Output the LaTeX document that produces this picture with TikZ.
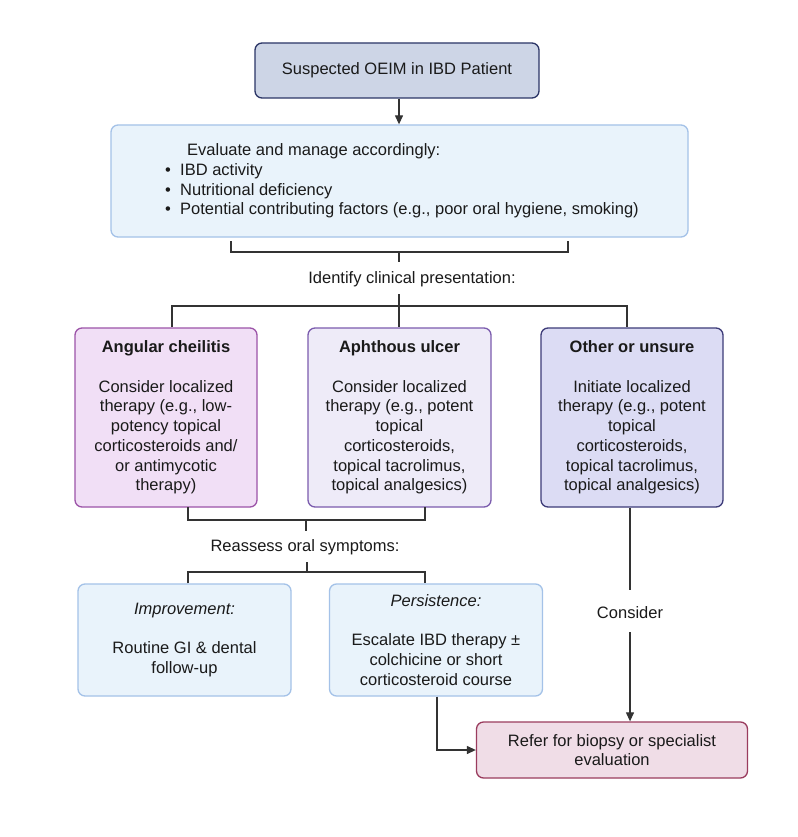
\documentclass[tikz,border=0pt]{standalone}
\usepackage{fontspec}
\setmainfont{Liberation Sans}
\usetikzlibrary{arrows.meta,calc}
\definecolor{lineC}{HTML}{333333}
\definecolor{topF}{HTML}{CDD5E6}\definecolor{topD}{HTML}{2B3566}
\definecolor{evF}{HTML}{E9F3FB}\definecolor{evD}{HTML}{A4C2E8}
\definecolor{angF}{HTML}{F1DFF6}\definecolor{angD}{HTML}{9C54A8}
\definecolor{aphF}{HTML}{EEEBF8}\definecolor{aphD}{HTML}{7B5CAE}
\definecolor{othF}{HTML}{DCDCF4}\definecolor{othD}{HTML}{3D3B78}
\definecolor{refF}{HTML}{F0DDE7}\definecolor{refD}{HTML}{9A3C5E}
\definecolor{txt}{HTML}{1A1A1A}
\begin{document}
\begin{tikzpicture}[x=1pt,y=-1pt,
  every node/.style={font=\fontsize{16.5}{19.7}\selectfont, text=txt, inner sep=0pt},
  box/.style={draw, rounded corners=7pt, line width=1.3pt, align=center},
  conn/.style={draw=lineC, line width=1.2pt},
  arr/.style={conn, -{Triangle[length=9pt,width=8pt]}},
  lbl/.style={align=center}]
\fill[white] (0,0) rectangle (797,837);
\useasboundingbox (0,0) rectangle (797,837);
% boxes
\node[box, fill=topF, draw=topD, minimum width=284pt, minimum height=55pt] (top) at (397,70.5) {Suspected OEIM in IBD Patient};
\node[box, fill=evF, draw=evD, minimum width=577pt, minimum height=112pt] (eval) at (399.5,181) {};
\node[align=left, anchor=west] (evtxt) at (165,181) {\hspace*{22pt}Evaluate and manage accordingly:\\
\makebox[15pt][l]{•}IBD activity\\
\makebox[15pt][l]{•}Nutritional deficiency\\
\makebox[15pt][l]{•}Potential contributing factors (e.g., poor oral hygiene, smoking)};
\node[box, fill=angF, draw=angD, minimum width=182pt, minimum height=179pt] (ang) at (166,417.5)
  {\textbf{Angular cheilitis}\\[19.7pt]Consider localized\\therapy (e.g., low-\\potency topical\\corticosteroids and/\\or antimycotic\\therapy)};
\node[box, fill=aphF, draw=aphD, minimum width=183pt, minimum height=179pt] (aph) at (399.5,417.5)
  {\textbf{Aphthous ulcer}\\[19.7pt]Consider localized\\therapy (e.g., potent\\topical\\corticosteroids,\\topical tacrolimus,\\topical analgesics)};
\node[box, fill=othF, draw=othD, minimum width=182pt, minimum height=179pt] (oth) at (632,417.5)
  {\textbf{Other or unsure}\\[19.7pt]Initiate localized\\therapy (e.g., potent\\topical\\corticosteroids,\\topical tacrolimus,\\topical analgesics)};
\node[box, fill=evF, draw=evD, minimum width=213pt, minimum height=112pt] (imp) at (184.5,640)
  {\textit{Improvement:}\\[19.7pt]Routine GI \& dental\\follow-up};
\node[box, fill=evF, draw=evD, minimum width=213pt, minimum height=112pt] (per) at (436,640)
  {\textit{Persistence:}\\[19.7pt]Escalate IBD therapy ±\\colchicine or short\\corticosteroid course};
\node[box, fill=refF, draw=refD, minimum width=271pt, minimum height=56pt] (ref) at (612,750)
  {Refer for biopsy or specialist\\evaluation};
% labels
\node[lbl] (ident) at (412,279) {Identify clinical presentation:};
\node[lbl] (reas) at (305,547) {Reassess oral symptoms:};
\node[lbl] (cons) at (630,613) {Consider};
% coordinates
\coordinate (b1l) at (231,241);
\coordinate (b1r) at (568,241);
\coordinate (b1m) at (399,252);
\coordinate (b1s) at (399,262);
\coordinate (b2m) at (399,294);
\coordinate (b2h) at (399,306);
\coordinate (b3l) at (188,507);
\coordinate (b3r) at (425,507);
\coordinate (b3m) at (306,520);
\coordinate (b3s) at (306,531);
\coordinate (b4m) at (307,562);
\coordinate (b4h) at (307,572);
% connectors
\draw[arr] (top.south -| b1m) -- (eval.north -| b1m);
\draw[conn] (b1l) |- (b1m) -| (b1r);
\draw[conn] (b1m) -- (b1s);
\draw[conn] (b2m) -- (b2h);
\draw[conn] (ang.north -| 172,0) |- (b2h) -| (oth.north -| 627,0);
\draw[conn] (b2h) -- (aph.north -| b2h);
\draw[conn] (b3l) |- (b3m) -| (b3r);
\draw[conn] (b3m) -- (b3s);
\draw[conn] (b4m) -- (b4h);
\draw[conn] (imp.north -| b3l) |- (b4h) -| (per.north -| b3r);
\draw[conn] (oth.south -| cons) -- (630,590);
\draw[arr] (630,632) -- (ref.north -| cons);
\draw[arr] (per.south -| 437,0) |- (ref.west);
\end{tikzpicture}
\end{document}
